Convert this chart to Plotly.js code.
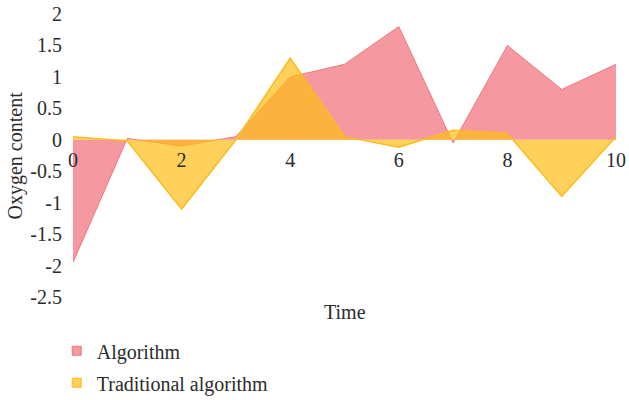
<!DOCTYPE html>
<html><head><meta charset="utf-8">
<script src="https://cdn.plot.ly/plotly-3.0.1.min.js"></script>
<style>html,body{margin:0;padding:0;background:#fff}#chart{width:629px;height:400px}</style>
</head><body><div id="chart"></div>
<script>
var timeValues = [0, 1, 2, 3, 4, 5, 6, 7, 8, 9, 10];
var algorithmValues = [-1.95, 0.02, -0.1, 0.05, 1.0, 1.2, 1.8, -0.05, 1.5, 0.8, 1.2];
var traditionalValues = [0.05, -0.02, -1.1, 0.0, 1.3, 0.05, -0.12, 0.15, 0.1, -0.9, 0.05];
var seriesNames = ["Algorithm", "Traditional algorithm"];
var yTickValues = [-2.5, -2, -1.5, -1, -0.5, 0, 0.5, 1, 1.5, 2];
var yTickLabels = ["-2.5", "-2", "-1.5", "-1", "-0.5", "0", "0.5", "1", "1.5", "2"];
var xTickValues = [0, 2, 4, 6, 8, 10];

var fontFam = "Liberation Serif, Times New Roman, serif";
var txtColor = "#2b2b2b";
var fs = 20;
var yMin = -2.5, yMax = 2;
var pinkFill = "rgba(239,83,96,0.6)", pinkLine = "rgba(236,110,120,0.9)";
var yellowFill = "rgba(255,190,20,0.7)", yellowLine = "rgba(251,188,30,1)";

var traces = [
  {x: timeValues, y: algorithmValues, name: seriesNames[0], type: "scatter", mode: "lines",
   fill: "tozeroy", fillcolor: pinkFill, line: {color: pinkLine, width: 1}, showlegend: false},
  {x: timeValues, y: traditionalValues, name: seriesNames[1], type: "scatter", mode: "lines",
   fill: "tozeroy", fillcolor: yellowFill, line: {color: yellowLine, width: 1.5}, showlegend: false},
  {x: [null], y: [null], name: seriesNames[0], type: "scatter", mode: "markers", legendgroup: "a",
   marker: {symbol: "square", size: 9, color: pinkFill, line: {color: pinkLine, width: 1}}},
  {x: [null], y: [null], name: seriesNames[1], type: "scatter", mode: "markers", legendgroup: "b",
   marker: {symbol: "square", size: 9, color: yellowFill, line: {color: yellowLine, width: 1}}}
];

var layout = {
  width: 629, height: 400,
  margin: {l: 73, r: 13, t: 14, b: 103, autoexpand: false},
  paper_bgcolor: "#fff", plot_bgcolor: "#fff",
  font: {family: fontFam, size: fs, color: txtColor},
  showlegend: true,
  legend: {x: -0.03, y: -0.121, xanchor: "left", yanchor: "top", orientation: "v",
           traceorder: "grouped", tracegroupgap: 3,
           font: {family: fontFam, size: fs, color: txtColor}, bgcolor: "rgba(0,0,0,0)"},
  xaxis: {range: [0, 10], tickvals: xTickValues, showgrid: false, zeroline: false, showline: false,
          anchor: "free", position: (0 - yMin) / (yMax - yMin), ticks: "", ticklabelstandoff: 6,
          tickfont: {family: fontFam, size: fs, color: txtColor}},
  yaxis: {range: [yMin, yMax], tickvals: yTickValues, ticktext: yTickLabels, showgrid: false,
          zeroline: false, showline: false, ticks: "", ticklabelstandoff: 10,
          tickfont: {family: fontFam, size: fs, color: txtColor}},
  annotations: [
    {text: "Time", xref: "paper", yref: "paper", x: 0.5, y: 0, yanchor: "top", yshift: -2,
     showarrow: false, font: {family: fontFam, size: fs, color: txtColor}},
    {text: "Oxygen content", xref: "paper", yref: "paper", x: 0, y: 0.5, xanchor: "center",
     yanchor: "middle", xshift: -58, textangle: -90, showarrow: false,
     font: {family: fontFam, size: fs, color: txtColor}}
  ]
};

Plotly.newPlot("chart", traces, layout, {displayModeBar: false, staticPlot: true});
</script></body></html>
